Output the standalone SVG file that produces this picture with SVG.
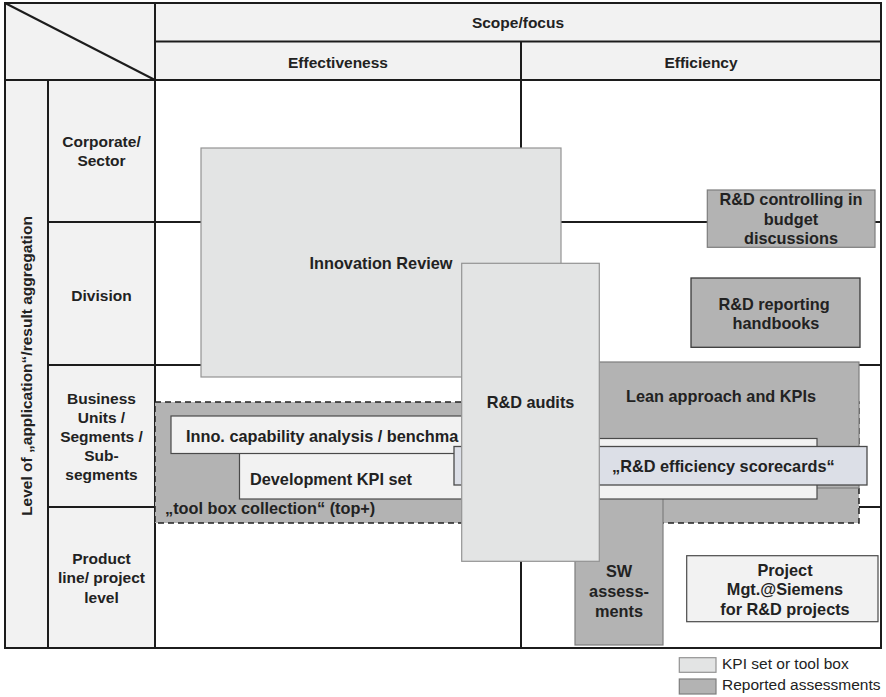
<svg xmlns="http://www.w3.org/2000/svg" width="886" height="697" viewBox="0 0 886 697">
  <style>
    .grid { stroke: #1c1c1c; stroke-width: 2; fill: none; }
    .hdr { font-family: "Liberation Sans", Arial, sans-serif; font-weight: bold; font-size: 15.5px; fill: #222; }
    .lbl { font-family: "Liberation Sans", Arial, sans-serif; font-weight: bold; font-size: 16.3px; fill: #222; }
    .leg { font-family: "Liberation Sans", Arial, sans-serif; font-size: 15.5px; fill: #222; }
    .kpi { fill: #e3e4e4; stroke: #939393; stroke-width: 1.2; }
    .rep { fill: #b3b3b3; stroke: #7d7d7d; stroke-width: 1.2; }
    .rep-dark { fill: #b3b3b3; stroke: #3a3a3a; stroke-width: 1.3; }
    .light { fill: #f2f2f2; stroke: #4a4a4a; stroke-width: 1.2; }
    .score { fill: #dcdfe7; stroke: #4a4a4a; stroke-width: 1.3; }
    .mid { text-anchor: middle; }
  </style>

  <!-- matrix frame -->
  <g id="matrix">
    <rect x="5" y="3" width="876" height="77" fill="#f2f2f2"/>
    <rect x="5" y="80" width="150" height="568" fill="#f2f2f2"/>
    <rect x="155" y="80" width="726" height="568" fill="#ffffff"/>
    <rect class="grid" x="5" y="3" width="876" height="645"/>
    <line class="grid" x1="155" y1="41.5" x2="881" y2="41.5"/>
    <line class="grid" x1="5" y1="80" x2="881" y2="80"/>
    <line class="grid" x1="155" y1="3" x2="155" y2="648"/>
    <line class="grid" x1="48" y1="80" x2="48" y2="648"/>
    <line class="grid" x1="521" y1="41.5" x2="521" y2="648"/>
    <line class="grid" x1="5" y1="3" x2="155" y2="80"/>
    <line class="grid" x1="48" y1="222" x2="881" y2="222"/>
    <line class="grid" x1="48" y1="365" x2="881" y2="365"/>
    <line class="grid" x1="48" y1="507" x2="881" y2="507"/>

    <text class="hdr mid" x="518" y="27.5">Scope/focus</text>
    <text class="hdr mid" x="338" y="67.5">Effectiveness</text>
    <text class="hdr mid" x="701" y="67.5">Efficiency</text>

    <text class="hdr mid" transform="translate(32 366) rotate(-90)">Level of „application“/result aggregation</text>

    <text class="hdr mid" x="101.5" y="146.5">Corporate/</text>
    <text class="hdr mid" x="101.5" y="166">Sector</text>
    <text class="hdr mid" x="101.5" y="300.5">Division</text>
    <text class="hdr mid" x="101.5" y="404">Business</text>
    <text class="hdr mid" x="101.5" y="423">Units /</text>
    <text class="hdr mid" x="101.5" y="442">Segments /</text>
    <text class="hdr mid" x="101.5" y="461">Sub-</text>
    <text class="hdr mid" x="101.5" y="480">segments</text>
    <text class="hdr mid" x="101.5" y="563.5">Product</text>
    <text class="hdr mid" x="101.5" y="583">line/ project</text>
    <text class="hdr mid" x="101.5" y="602.5">level</text>
  </g>

  <!-- instruments, back to front -->
  <g id="innovation-review">
    <rect class="kpi" x="201" y="148" width="360" height="229"/>
    <text class="lbl mid" x="381" y="269">Innovation Review</text>
  </g>

  <g id="tool-box-collection">
    <rect x="155" y="402" width="704" height="121" fill="#b3b3b3" stroke="#222" stroke-width="1.5" stroke-dasharray="6 4"/>
    <text class="lbl" x="165" y="513.5">„tool box collection“ (top+)</text>
  </g>

  <g id="lean-approach">
    <rect class="rep" x="585" y="362" width="274" height="126" stroke="#555"/>
    <text class="lbl" x="626" y="401.5">Lean approach and KPIs</text>
  </g>

  <g id="sw-assessments">
    <rect class="rep" x="575" y="492" width="88" height="153" stroke="#8a8a8a"/>
    <text class="lbl mid" x="619" y="577">SW</text>
    <text class="lbl mid" x="619" y="596.5">assess-</text>
    <text class="lbl mid" x="619" y="616.5">ments</text>
  </g>

  <g id="development-kpi-set">
    <rect class="light" x="239.5" y="438.5" width="577.5" height="60.5"/>
    <text class="lbl" x="250" y="484.5">Development KPI set</text>
  </g>

  <g id="inno-capability-analysis">
    <rect class="light" x="171" y="416" width="310" height="37.5"/>
    <text class="lbl" x="186" y="441.5">Inno. capability analysis / benchma</text>
  </g>

  <g id="efficiency-scorecards">
    <rect class="score" x="454" y="446.5" width="413" height="38.5"/>
    <text class="lbl" x="612" y="471.5">„R&amp;D efficiency scorecards“</text>
  </g>

  <g id="rd-audits">
    <rect class="kpi" x="461.7" y="263.3" width="137.6" height="298" stroke="#8a8a8a"/>
    <text class="lbl mid" x="530.5" y="407.5">R&amp;D audits</text>
  </g>

  <g id="rd-controlling">
    <rect class="rep" x="707.3" y="190" width="167.7" height="57.3" stroke="#8a8a8a"/>
    <text class="lbl mid" x="791" y="205.3">R&amp;D controlling in</text>
    <text class="lbl mid" x="791" y="224.5">budget</text>
    <text class="lbl mid" x="791" y="243.5">discussions</text>
  </g>

  <g id="rd-reporting-handbooks">
    <rect class="rep-dark" x="691" y="278" width="169" height="69.3"/>
    <text class="lbl mid" x="774" y="309.5">R&amp;D reporting</text>
    <text class="lbl mid" x="776" y="329">handbooks</text>
  </g>

  <g id="project-mgt">
    <rect class="light" x="686.7" y="555.7" width="191.3" height="66" stroke="#333"/>
    <text class="lbl mid" x="785" y="576">Project</text>
    <text class="lbl mid" x="785" y="595.3">Mgt.@Siemens</text>
    <text class="lbl mid" x="785" y="614.5">for R&amp;D projects</text>
  </g>

  <!-- legend -->
  <g id="legend">
    <rect class="kpi" x="679.3" y="657.7" width="36.7" height="14.6" stroke="#555"/>
    <rect class="rep" x="679.3" y="679" width="36.7" height="15" stroke="#555"/>
    <text class="leg" x="722" y="668.5">KPI set or tool box</text>
    <text class="leg" x="722" y="690">Reported assessments</text>
  </g>

  <g id="connectors"/>
</svg>
